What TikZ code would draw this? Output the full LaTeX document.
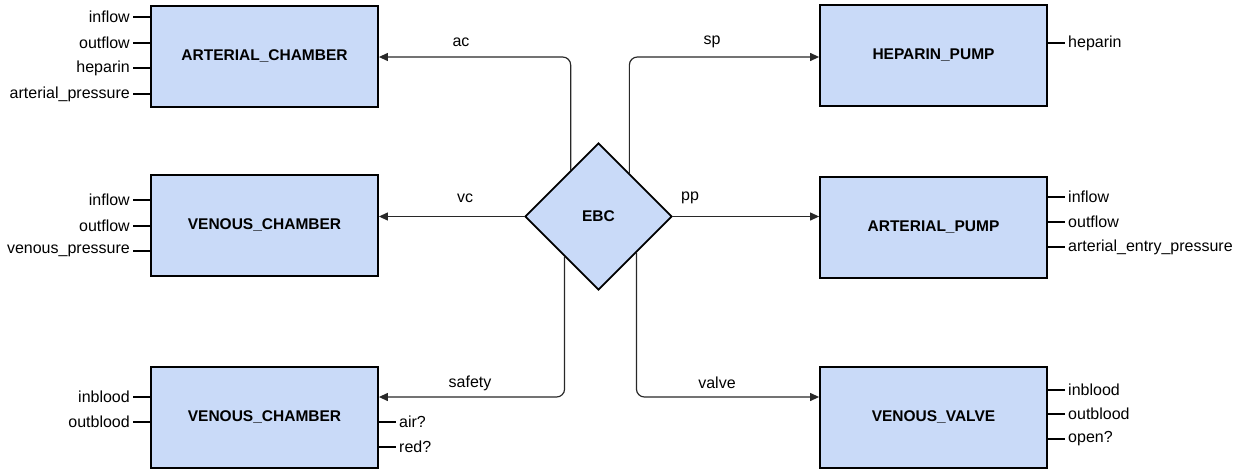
\documentclass[tikz,border=0pt]{standalone}
\usepackage{fontspec}
\setmainfont{Liberation Sans}
\usetikzlibrary{shapes.geometric,arrows.meta,calc}
\definecolor{boxfill}{RGB}{201,218,248}
\definecolor{linec}{RGB}{40,40,40}
\begin{document}
\begin{tikzpicture}[x=1pt,y=-1pt,
  every node/.style={font=\fontsize{16}{18}\selectfont},
  blk/.style={draw=black,line width=1.8pt,fill=boxfill,minimum width=227pt,minimum height=101pt,inner sep=0pt,font=\fontsize{15.5}{18}\selectfont\bfseries},
  ctrl/.style={diamond,draw=black,line width=1.8pt,fill=boxfill,minimum width=147pt,minimum height=147pt,inner sep=0pt,aspect=1,font=\fontsize{15.5}{18}\selectfont\bfseries},
  conn/.style={draw=linec,line width=1.2pt,rounded corners=8pt,-{Triangle[length=9pt,width=8pt]}},
  pinln/.style={draw=black,line width=1.8pt},
  lpin/.style={anchor=east,inner sep=3pt},
  rpin/.style={anchor=west,inner sep=3pt},
  clabel/.style={inner sep=1pt}]
\useasboundingbox (0,0) rectangle (1247,474);
% blocks
\node[blk] (ac) at (264.5,56.5) {ARTERIAL\_CHAMBER};
\node[blk] (vc) at (264.5,225.5) {VENOUS\_CHAMBER};
\node[blk] (vc2) at (264.5,417.5) {VENOUS\_CHAMBER};
\node[blk] (hp) at (933.5,55.5) {HEPARIN\_PUMP};
\node[blk] (ap) at (933.5,227.5) {ARTERIAL\_PUMP};
\node[blk] (vv) at (933.5,417.5) {VENOUS\_VALVE};
\node[ctrl] (ebc) at (598.5,216.5) {EBC};
% pins left of arterial chamber
\foreach \t/\y [count=\i] in {inflow/17,outflow/43,heparin/68,arterial\_pressure/94}{
  \node[lpin] (acp\i) at (133,\y) {\t};
  \draw[pinln] (acp\i.east) -- (ac.west |- acp\i.east);
}
\foreach \t/\y [count=\i] in {inflow/200,outflow/226,venous\_pressure/251}{
  \node[lpin] (vcp\i) at (133,\y) {\t};
  \draw[pinln] (vcp\i.east) -- (vc.west |- vcp\i.east);
}
\foreach \t/\y [count=\i] in {inblood/397,outblood/422}{
  \node[lpin] (vdp\i) at (133,\y) {\t};
  \draw[pinln] (vdp\i.east) -- (vc2.west |- vdp\i.east);
}
\foreach \t/\y [count=\i] in {air?/422,red?/447}{
  \node[rpin] (vdq\i) at (396,\y) {\t};
  \draw[pinln] (vc2.east |- vdq\i.west) -- (vdq\i.west);
}
\foreach \t/\y [count=\i] in {heparin/43}{
  \node[rpin] (hpp\i) at (1065,\y) {\t};
  \draw[pinln] (hp.east |- hpp\i.west) -- (hpp\i.west);
}
\foreach \t/\y [count=\i] in {inflow/197,outflow/222,arterial\_entry\_pressure/247}{
  \node[rpin] (app\i) at (1065,\y) {\t};
  \draw[pinln] (ap.east |- app\i.west) -- (app\i.west);
}
\foreach \t/\y [count=\i] in {inblood/390,outblood/414,open?/439}{
  \node[rpin] (vvp\i) at (1065,\y) {\t};
  \draw[pinln] (vv.east |- vvp\i.west) -- (vvp\i.west);
}
% connector endpoints on diamond
\coordinate (sac) at ($(ebc.north)!0.374!(ebc.west)$);
\coordinate (ssp) at ($(ebc.north)!0.415!(ebc.east)$);
\coordinate (ssf) at ($(ebc.south)!0.456!(ebc.west)$);
\coordinate (svl) at ($(ebc.south)!0.51!(ebc.east)$);
\coordinate (tac) at (ac.east |- 0,57);
\coordinate (tsp) at (hp.west |- 0,57);
\coordinate (tsf) at (vc2.east |- 0,397);
\coordinate (tvl) at (vv.west |- 0,397);
\draw[conn] (sac) |- (tac);
\draw[conn] (ssp) |- (tsp);
\draw[conn] (ssf) |- (tsf);
\draw[conn] (svl) |- (tvl);
\draw[conn] (ebc.west) -- (vc.east |- ebc.west);
\draw[conn] (ebc.east) -- (ap.west |- ebc.east);
% connector labels
\node[clabel] (lac) at (461,42) {ac};
\node[clabel] (lsp) at (712,42) {sp};
\node[clabel] (lvc) at (465,198) {vc};
\node[clabel] (lpp) at (690,198) {pp};
\node[clabel] (lsf) at (470,383) {safety};
\node[clabel] (lvl) at (717,383) {valve};
\end{tikzpicture}
\end{document}
